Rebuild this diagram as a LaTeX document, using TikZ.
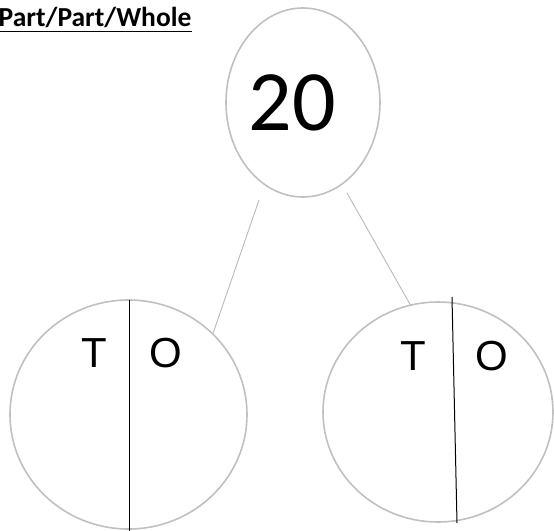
\documentclass[tikz,border=0pt]{standalone}
\usepackage{fontspec}
\setmainfont{Carlito}
\newfontfamily\arialf{Liberation Sans}
\usetikzlibrary{shapes.geometric}
\definecolor{ringgray}{RGB}{192,192,192}
\definecolor{linkgray}{RGB}{185,185,185}
\tikzset{
  ring/.style={draw=ringgray, line width=1.6pt, ellipse, inner sep=0pt},
  link/.style={draw=linkgray, line width=0.9pt},
  divider/.style={draw=black, line width=1pt},
  tolabel/.style={font=\arialf\fontsize{42}{46}\selectfont, anchor=base, inner sep=0pt},
}
\begin{document}
\begin{tikzpicture}[x=1pt,y=-1pt]
\useasboundingbox (0,0) rectangle (554,530);
% title
\node[anchor=base west, inner sep=0pt, font=\bfseries\fontsize{27.5}{30}\selectfont] (title) at (-1.5,27) {Part/Part/Whole};
\draw[line width=1.8pt] (title.base west) ++(0,4.5) coordinate (ul1) -- (ul1 -| title.base east);
% circles
\node[ring, minimum width=154pt, minimum height=189pt] (whole) at (303,102.5) {};
\node[ring, minimum width=237pt, minimum height=229pt] (partA) at (128.5,414.5) {};
\node[ring, minimum width=230pt, minimum height=220pt] (partB) at (438,412) {};
% number
\node[anchor=base, inner sep=0pt, font=\fontsize{86}{90}\selectfont] (num) at (292.5,130) {20};
% connectors
\coordinate (c1) at (259,200);
\coordinate (c2) at (213,333.5);
\coordinate (c3) at (347,193);
\coordinate (c4) at (411,306);
\draw[link] (c1) -- (c2);
\draw[link] (c3) -- (c4);
% dividers
\coordinate (d1) at (129,300);
\coordinate (d2) at (129,531);
\coordinate (d3) at (452,297);
\coordinate (d4) at (457,523);
\draw[divider] (d1) -- (d2);
\draw[divider] (d3) -- (d4);
% labels
\node[tolabel] (tA) at (94.5,367) {T};
\node[tolabel] (oA) at (165.5,367) {O};
\node[tolabel] (tB) at (413.5,370) {T};
\node[tolabel] (oB) at (492,370) {O};
\end{tikzpicture}
\end{document}
